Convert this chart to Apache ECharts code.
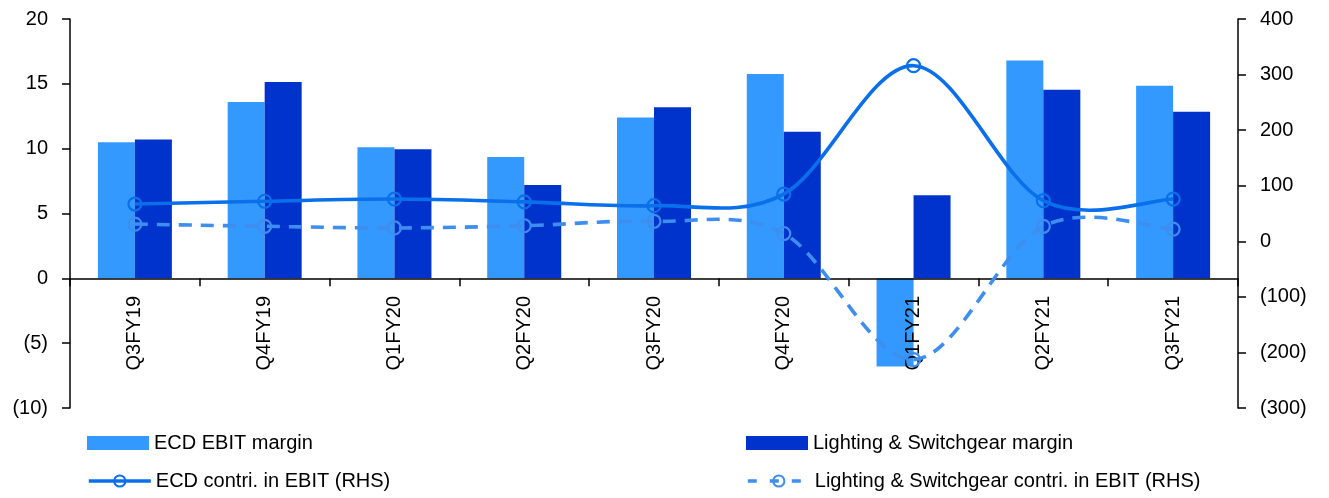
<!DOCTYPE html>
<html>
<head>
<meta charset="utf-8">
<script src="https://cdn.jsdelivr.net/npm/echarts@6/dist/echarts.min.js"></script>
<style>
html,body{margin:0;padding:0;background:#fff;}
#chart{width:1329px;height:498px;}
</style>
</head>
<body>
<div id="chart"></div>
<script>
const categories = ['Q3FY19','Q4FY19','Q1FY20','Q2FY20','Q3FY20','Q4FY20','Q1FY21','Q2FY21','Q3FY21'];
const ecdMargin = [10.5, 13.6, 10.1, 9.35, 12.4, 15.75, -6.8, 16.8, 14.85];
const lsMargin = [10.7, 15.15, 9.95, 7.2, 13.2, 11.3, 6.4, 14.55, 12.85];
const ecdContri = [67, 72, 76, 71, 64, 85, 316, 73, 76];
const lsContri = [31, 27, 24, 28, 36, 14, -213, 27, 22];
const leftTicks = {min: -10, max: 20, interval: 5};
const rightTicks = {min: -300, max: 400, interval: 100};

const FONT = '"Liberation Sans", Arial, sans-serif';
const fmt = v => v < 0 ? '(' + (-v) + ')' : String(v);
const chart = echarts.init(document.getElementById('chart'), null, {renderer: 'canvas'});

const C_ECD_BAR = '#3399FF', C_LS_BAR = '#0033CC', C_ECD_LINE = '#0A6FEA', C_LS_LINE = '#3D8EEE';
const LINE_W = 3.6;
const LS_DASH = [13, 9];

function legend(name, left, top, lineStyle, icon) {
  const item = {name: name};
  if (lineStyle) item.lineStyle = lineStyle;
  if (icon) item.icon = icon;
  return {
    data: [item], left: left, top: top, itemWidth: 62, itemHeight: 14,
    selectedMode: false, padding: 0,
    textStyle: {fontFamily: FONT, fontSize: 20, color: '#000', lineHeight: 20}
  };
}

// Smooth curve through the data points (Catmull-Rom style, as in spreadsheet "smoothed line")
function curveSeries(values, color, dash) {
  return {
    type: 'custom', yAxisIndex: 1, silent: true, z: 4,
    data: values.map((v, i) => [i, v]),
    renderItem: function (params, api) {
      if (params.dataIndex !== 0) return null;
      const pts = values.map((v, i) => api.coord([i, v]));
      let d = 'M' + pts[0][0] + ' ' + pts[0][1];
      for (let i = 0; i < pts.length - 1; i++) {
        const p0 = pts[Math.max(i - 1, 0)], p1 = pts[i], p2 = pts[i + 1], p3 = pts[Math.min(i + 2, pts.length - 1)];
        const c1x = p1[0] + (p2[0] - p0[0]) / 6, c1y = p1[1] + (p2[1] - p0[1]) / 6;
        const c2x = p2[0] - (p3[0] - p1[0]) / 6, c2y = p2[1] - (p3[1] - p1[1]) / 6;
        d += ' C' + c1x + ' ' + c1y + ' ' + c2x + ' ' + c2y + ' ' + p2[0] + ' ' + p2[1];
      }
      return {
        type: 'path',
        shape: {pathData: d},
        style: {fill: null, stroke: color, lineWidth: LINE_W, lineDash: dash || null, lineCap: 'butt'}
      };
    }
  };
}

chart.setOption({
  animation: false,
  textStyle: {fontFamily: FONT},
  grid: {left: 70, right: 91, top: 19, bottom: 90, containLabel: false, outerBoundsMode: 'none'},
  legend: [
    legend('ECD EBIT margin', 87, 433, null, 'rect'),
    legend('Lighting & Switchgear margin', 746, 433, null, 'rect'),
    legend('ECD contri. in EBIT (RHS)', 87, 471, {opacity: 1, color: C_ECD_LINE, width: LINE_W, type: 'solid'}),
    legend('Lighting & Switchgear contri. in EBIT (RHS)', 746, 471, {opacity: 1, color: C_LS_LINE, width: LINE_W, type: [9, 13]})
  ],
  xAxis: {
    type: 'category', data: categories, boundaryGap: true, z: 3,
    axisLine: {onZero: true, onZeroAxisIndex: 0, lineStyle: {color: '#000', width: 1.5}},
    axisTick: {show: true, length: 8, alignWithLabel: false, lineStyle: {color: '#000', width: 1.5}},
    axisLabel: {rotate: 90, margin: -112, fontSize: 20, color: '#000', fontFamily: FONT},
    splitLine: {show: false}
  },
  yAxis: [
    {
      type: 'value', position: 'left', min: leftTicks.min, max: leftTicks.max, interval: leftTicks.interval,
      axisLine: {show: true, lineStyle: {color: '#000', width: 1.5}},
      axisTick: {show: true, length: 8, lineStyle: {color: '#000', width: 1.5}},
      axisLabel: {formatter: fmt, margin: 22, fontSize: 20, color: '#000', fontFamily: FONT},
      splitLine: {show: false}
    },
    {
      type: 'value', position: 'right', min: rightTicks.min, max: rightTicks.max, interval: rightTicks.interval,
      axisLine: {show: true, lineStyle: {color: '#000', width: 1.5}},
      axisTick: {show: true, length: 8, lineStyle: {color: '#000', width: 1.5}},
      axisLabel: {formatter: fmt, margin: 22, fontSize: 20, color: '#000', fontFamily: FONT},
      splitLine: {show: false}
    }
  ],
  series: [
    {name: 'ECD EBIT margin', type: 'bar', yAxisIndex: 0, data: ecdMargin, barWidth: 37, barGap: '0%',
     itemStyle: {color: C_ECD_BAR}, z: 2},
    {name: 'Lighting & Switchgear margin', type: 'bar', yAxisIndex: 0, data: lsMargin, barWidth: 37, barGap: '0%',
     itemStyle: {color: C_LS_BAR}, z: 2},
    curveSeries(ecdContri, C_ECD_LINE, null),
    curveSeries(lsContri, C_LS_LINE, LS_DASH),
    {name: 'ECD contri. in EBIT (RHS)', type: 'line', yAxisIndex: 1, data: ecdContri,
     symbol: 'circle', symbolSize: 13,
     lineStyle: {color: C_ECD_LINE, width: LINE_W, opacity: 0},
     itemStyle: {color: 'rgba(255,255,255,0)', borderColor: C_ECD_LINE, borderWidth: 2.2},
     z: 6},
    {name: 'Lighting & Switchgear contri. in EBIT (RHS)', type: 'line', yAxisIndex: 1, data: lsContri,
     symbol: 'circle', symbolSize: 13,
     lineStyle: {color: C_LS_LINE, width: LINE_W, opacity: 0},
     itemStyle: {color: 'rgba(255,255,255,0)', borderColor: C_LS_LINE, borderWidth: 2.2},
     z: 5}
  ]
});
</script>
</body>
</html>
